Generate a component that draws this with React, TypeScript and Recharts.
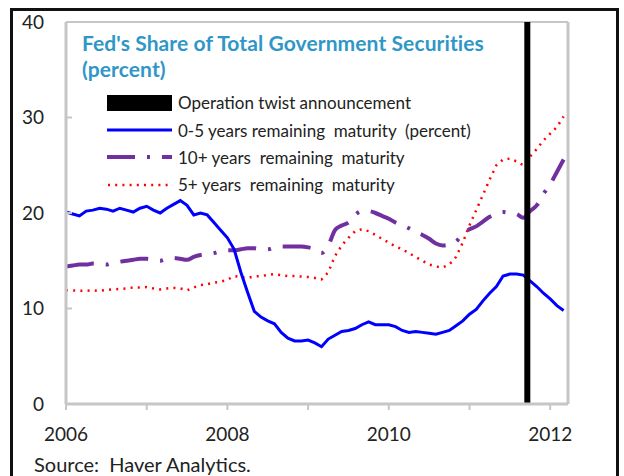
import React from "react";
import { LineChart, Line, XAxis, YAxis, ReferenceLine } from "recharts";

// months since Jan 2006
const months = Array.from({ length: 75 }, (_, i) => i);

const shortMaturity = [
  20.1, 19.9, 19.7, 20.2, 20.3, 20.5, 20.4, 20.2, 20.5, 20.3, 20.1, 20.5,
  20.7, 20.3, 20.0, 20.5, 20.9, 21.3, 20.8, 19.8, 20.0, 19.8, 19.0, 18.2,
  17.4, 16.2, 13.8, 11.7, 9.7, 9.1, 8.7, 8.4, 7.5, 6.9, 6.6, 6.6,
  6.7, 6.4, 6.0, 6.8, 7.2, 7.6, 7.7, 7.9, 8.3, 8.6, 8.3, 8.3,
  8.3, 8.1, 7.7, 7.5, 7.6, 7.5, 7.4, 7.3, 7.5, 7.7, 8.2, 8.7,
  9.4, 9.9, 10.8, 11.6, 12.3, 13.4, 13.6, 13.6, 13.5, 12.9, 12.3, 11.6,
  11.0, 10.3, 9.8,
];

const longMaturity = [
  14.4, 14.5, 14.6, 14.6, 14.7, 14.7, 14.6, 14.8, 14.9, 15.0, 15.1, 15.2,
  15.2, 15.1, 15.0, 15.2, 15.3, 15.2, 15.1, 15.4, 15.6, 15.7, 15.8, 16.0,
  16.1, 16.1, 16.2, 16.3, 16.3, 16.2, 16.2, 16.4, 16.5, 16.5, 16.5, 16.5,
  16.4, 16.2, 15.8, 16.6, 18.2, 18.7, 19.0, 19.8, 20.2, 20.2, 20.0, 19.7,
  19.4, 19.0, 18.7, 18.4, 18.0, 17.7, 17.3, 16.8, 16.6, 16.7, 17.0, 17.8,
  18.3, 18.6, 19.1, 19.6, 19.9, 20.1, 20.0, 19.9, 19.5, 20.2, 20.8, 22.0,
  23.0, 24.3, 25.6,
];

const fivePlus = [
  11.9, 11.9, 11.85, 11.85, 11.9, 11.85, 11.95, 12.0, 12.05, 12.1, 12.2, 12.2,
  12.25, 12.1, 12.0, 12.1, 12.15, 12.1, 11.9, 12.2, 12.45, 12.55, 12.7, 12.8,
  13.0, 13.4, 13.3, 13.2, 13.35, 13.4, 13.5, 13.6, 13.5, 13.4, 13.4, 13.35,
  13.3, 13.2, 13.05, 13.8, 15.5, 16.6, 17.4, 18.1, 18.3, 18.1, 17.7, 17.3,
  16.9, 16.5, 16.2, 15.8, 15.4, 15.0, 14.6, 14.4, 14.3, 14.6, 15.4, 16.9,
  18.7, 20.3, 21.9, 23.5, 25.0, 25.6, 25.7, 25.4, 25.0, 25.9, 26.7, 27.6,
  28.3, 29.0, 30.1,
];

const yearTicks = [0, 12, 24, 36, 48, 60, 72];
const valueTicks = [0, 10, 20, 30, 40];
const twistMonth = 68.6; // Sept 21, 2011

const data = months.map((m, i) => ({
  m,
  short: shortMaturity[i],
  long: longMaturity[i],
  five: fivePlus[i],
}));

const FONT = "Lato, 'Open Sans', sans-serif";
const GRID = "#c6c6c6";
const axisTick = { fill: "#222", fontSize: 19, fontFamily: FONT };

const legendRows = [
  { label: "Operation twist announcement", kind: "bar" },
  { label: "0-5 years remaining  maturity  (percent)", kind: "blue" },
  { label: "10+ years  remaining  maturity", kind: "purple" },
  { label: "5+ years  remaining  maturity", kind: "red" },
];

function Swatch({ kind }: { kind: string }) {
  return (
    <svg width={66} height={18} style={{ display: "block" }}>
      {kind === "bar" && <rect x={0} y={1} width={65} height={16} fill="#000" />}
      {kind === "blue" && <line x1={0} y1={9} x2={65} y2={9} stroke="#0000ff" strokeWidth={3} />}
      {kind === "purple" && (
        <line x1={0} y1={9} x2={65} y2={9} stroke="#7030a0" strokeWidth={4} strokeDasharray="28 12 3 12" />
      )}
      {kind === "red" && (
        <line x1={1} y1={9} x2={65} y2={9} stroke="#ff0000" strokeWidth={2.5} strokeDasharray="2 5.2" />
      )}
    </svg>
  );
}

export default function App() {
  return (
    <div
      style={{
        position: "absolute",
        left: 0,
        top: 0,
        width: 624,
        height: 476,
        background: "#fff",
        overflow: "hidden",
        fontFamily: FONT,
      }}
    >
      <div
        style={{
          position: "absolute",
          left: 10,
          top: 8,
          width: 603,
          height: 500,
          border: "3px solid #111",
        }}
      />
      <div style={{ position: "absolute", left: 0, top: 0 }}>
        <LineChart width={624} height={476} data={data} margin={{ top: 22, right: 6, bottom: 32, left: 10 }}>
          <XAxis
            dataKey="m"
            type="number"
            domain={[0, 74.65]}
            ticks={yearTicks}
            allowDataOverflow
            tickFormatter={(m: number) => ((m / 12) % 2 === 0 ? String(2006 + m / 12) : "")}
            tick={axisTick}
            tickSize={6}
            tickMargin={18}
            height={40}
            axisLine={{ stroke: GRID, strokeWidth: 3 }}
            tickLine={{ stroke: GRID, strokeWidth: 2 }}
          />
          <YAxis
            yAxisId="left"
            domain={[0, 40]}
            ticks={valueTicks}
            width={56}
            tick={axisTick}
            tickSize={-6}
            tickMargin={28}
            axisLine={{ stroke: GRID, strokeWidth: 3 }}
            tickLine={{ stroke: GRID, strokeWidth: 2 }}
          />
          <YAxis
            yAxisId="right"
            orientation="right"
            domain={[0, 40]}
            ticks={valueTicks}
            width={50}
            tick={{ ...axisTick, textAnchor: "start" }}
            tickSize={-6}
            tickMargin={28}
            axisLine={{ stroke: GRID, strokeWidth: 3 }}
            tickLine={{ stroke: GRID, strokeWidth: 2 }}
          />
          <ReferenceLine yAxisId="left" y={40} stroke={GRID} strokeWidth={2} />
          <Line
            yAxisId="left"
            type="linear"
            dataKey="five"
            stroke="#ff0000"
            strokeWidth={2.5}
            strokeDasharray="2 5.2"
            dot={false}
            isAnimationActive={false}
          />
          <Line
            yAxisId="left"
            type="monotone"
            dataKey="long"
            stroke="#7030a0"
            strokeWidth={4}
            strokeDasharray="28 12 3 12"
            dot={false}
            isAnimationActive={false}
          />
          <Line
            yAxisId="left"
            type="linear"
            dataKey="short"
            stroke="#0000ff"
            strokeWidth={3}
            dot={false}
            isAnimationActive={false}
          />
          <ReferenceLine yAxisId="left" x={twistMonth} stroke="#000" strokeWidth={6} />
        </LineChart>
      </div>

      <div
        style={{
          position: "absolute",
          left: 82,
          top: 30,
          color: "#2f97c7",
          fontWeight: 700,
          fontSize: 21,
          letterSpacing: 0.1,
          lineHeight: "26px",
        }}
      >
        Fed's Share of Total Government Securities
        <br />
        (percent)
      </div>

      <div style={{ position: "absolute", left: 107, top: 89 }}>
        {legendRows.map((r) => (
          <div key={r.label} style={{ display: "flex", alignItems: "center", height: 27.4 }}>
            <Swatch kind={r.kind} />
            <span style={{ marginLeft: 5, fontSize: 17, color: "#222", whiteSpace: "pre" }}>{r.label}</span>
          </div>
        ))}
      </div>

      <div style={{ position: "absolute", left: 34, top: 452, fontSize: 20, color: "#222", whiteSpace: "pre" }}>
        Source:  Haver Analytics.
      </div>
    </div>
  );
}
